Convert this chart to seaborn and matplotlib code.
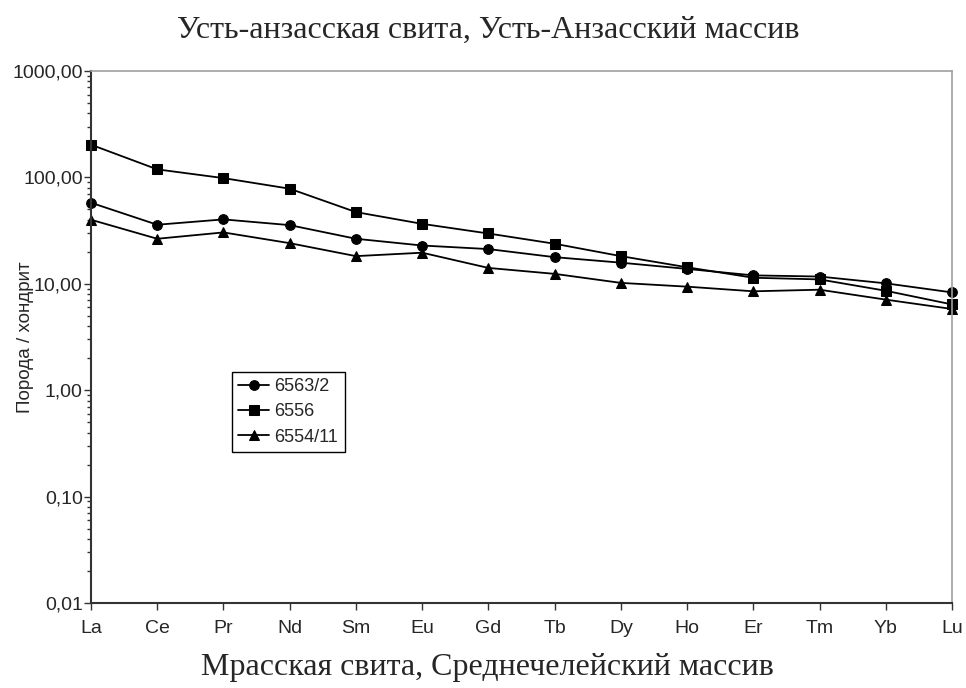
import matplotlib
matplotlib.use("Agg")
import matplotlib.pyplot as plt
import seaborn as sns
import pandas as pd
from matplotlib.ticker import LogLocator, FixedLocator, NullFormatter, FuncFormatter

sns.set_theme(style="white")
plt.rcParams['font.family'] = ['Liberation Sans', 'DejaVu Sans']

elements = ["La", "Ce", "Pr", "Nd", "Sm", "Eu", "Gd", "Tb", "Dy", "Ho", "Er", "Tm", "Yb", "Lu"]
s6563_2 = [57.8, 35.9, 40.3, 35.6, 26.5, 22.9, 21.2, 17.8, 15.8, 13.8, 12.0, 11.7, 10.1, 8.3]
s6556 = [203, 119, 98.5, 78.3, 47.2, 36.6, 29.7, 23.8, 18.2, 14.3, 11.4, 11.0, 8.6, 6.4]
s6554_11 = [40.0, 26.5, 30.4, 24.1, 18.2, 19.6, 14.1, 12.4, 10.2, 9.4, 8.5, 8.8, 7.1, 5.8]
samples = ["6563/2", "6556", "6554/11"]

title_top = "Усть-анзасская свита, Усть-Анзасский массив"
title_bottom = "Мрасская свита, Среднечелейский массив"
ylabel = "Порода / хондрит"

rows = []
for name, vals in zip(samples, [s6563_2, s6556, s6554_11]):
    for el, v in zip(elements, vals):
        rows.append({"element": el, "value": v, "sample": name})
df = pd.DataFrame(rows)

fig = plt.figure(figsize=(9.66, 6.88), dpi=100)
ax = fig.add_axes([91/966, 1-603/688, (952-91)/966, (603-71)/688])

sns.lineplot(data=df, x="element", y="value", hue="sample", style="sample",
             palette=["black"]*3, markers=["o", "s", "^"], dashes=False,
             markersize=7, linewidth=1.3, markeredgecolor="black",
             sort=False, ax=ax)
for ln in ax.lines:
    ln.set_clip_on(False)

ax.set_yscale("log")
ax.set_ylim(0.01, 1000)
ax.set_xlim(0, len(elements)-1)
ax.yaxis.set_major_locator(FixedLocator([0.01, 0.1, 1, 10, 100, 1000]))
ax.yaxis.set_major_formatter(FuncFormatter(lambda v, p: f"{v:.2f}".replace(".", ",")))
ax.yaxis.set_minor_locator(LogLocator(base=10, subs=range(2, 10)))
ax.yaxis.set_minor_formatter(NullFormatter())
ax.tick_params(axis="y", which="major", direction="out", length=5, width=1, color="#333333",
               left=True, labelsize=14, pad=1)
ax.tick_params(axis="y", which="minor", direction="out", length=3, width=1, color="#333333", left=True)
ax.tick_params(axis="x", which="major", direction="out", length=5, width=1, color="#333333",
               bottom=True, labelsize=14, pad=7)
ax.set_xlabel("")
ax.set_ylabel(ylabel, fontsize=13.5)
ax.yaxis.set_label_coords(-0.066, 0.5)

for side in ["left", "bottom"]:
    ax.spines[side].set_color("#333333")
    ax.spines[side].set_linewidth(1.5)
for side in ["top", "right"]:
    ax.spines[side].set_color("#a0a0a0")
    ax.spines[side].set_linewidth(1.2)
ax.grid(False)

leg = ax.legend(loc="upper left", bbox_to_anchor=(232/966, 1-372/688), bbox_transform=fig.transFigure,
                frameon=True, fancybox=False, edgecolor="black", framealpha=1, fontsize=13,
                handlelength=1.7, handletextpad=0.3, borderpad=0.35, labelspacing=0.45,
                borderaxespad=0)
leg.get_frame().set_linewidth(1.0)

fig.text(488/966, 1-30/688, title_top, ha="center", va="center", fontsize=23, family="Liberation Serif")
fig.text(487/966, 1-668/688, title_bottom, ha="center", va="center", fontsize=23, family="Liberation Serif")

fig.savefig("out.png", dpi=100)
